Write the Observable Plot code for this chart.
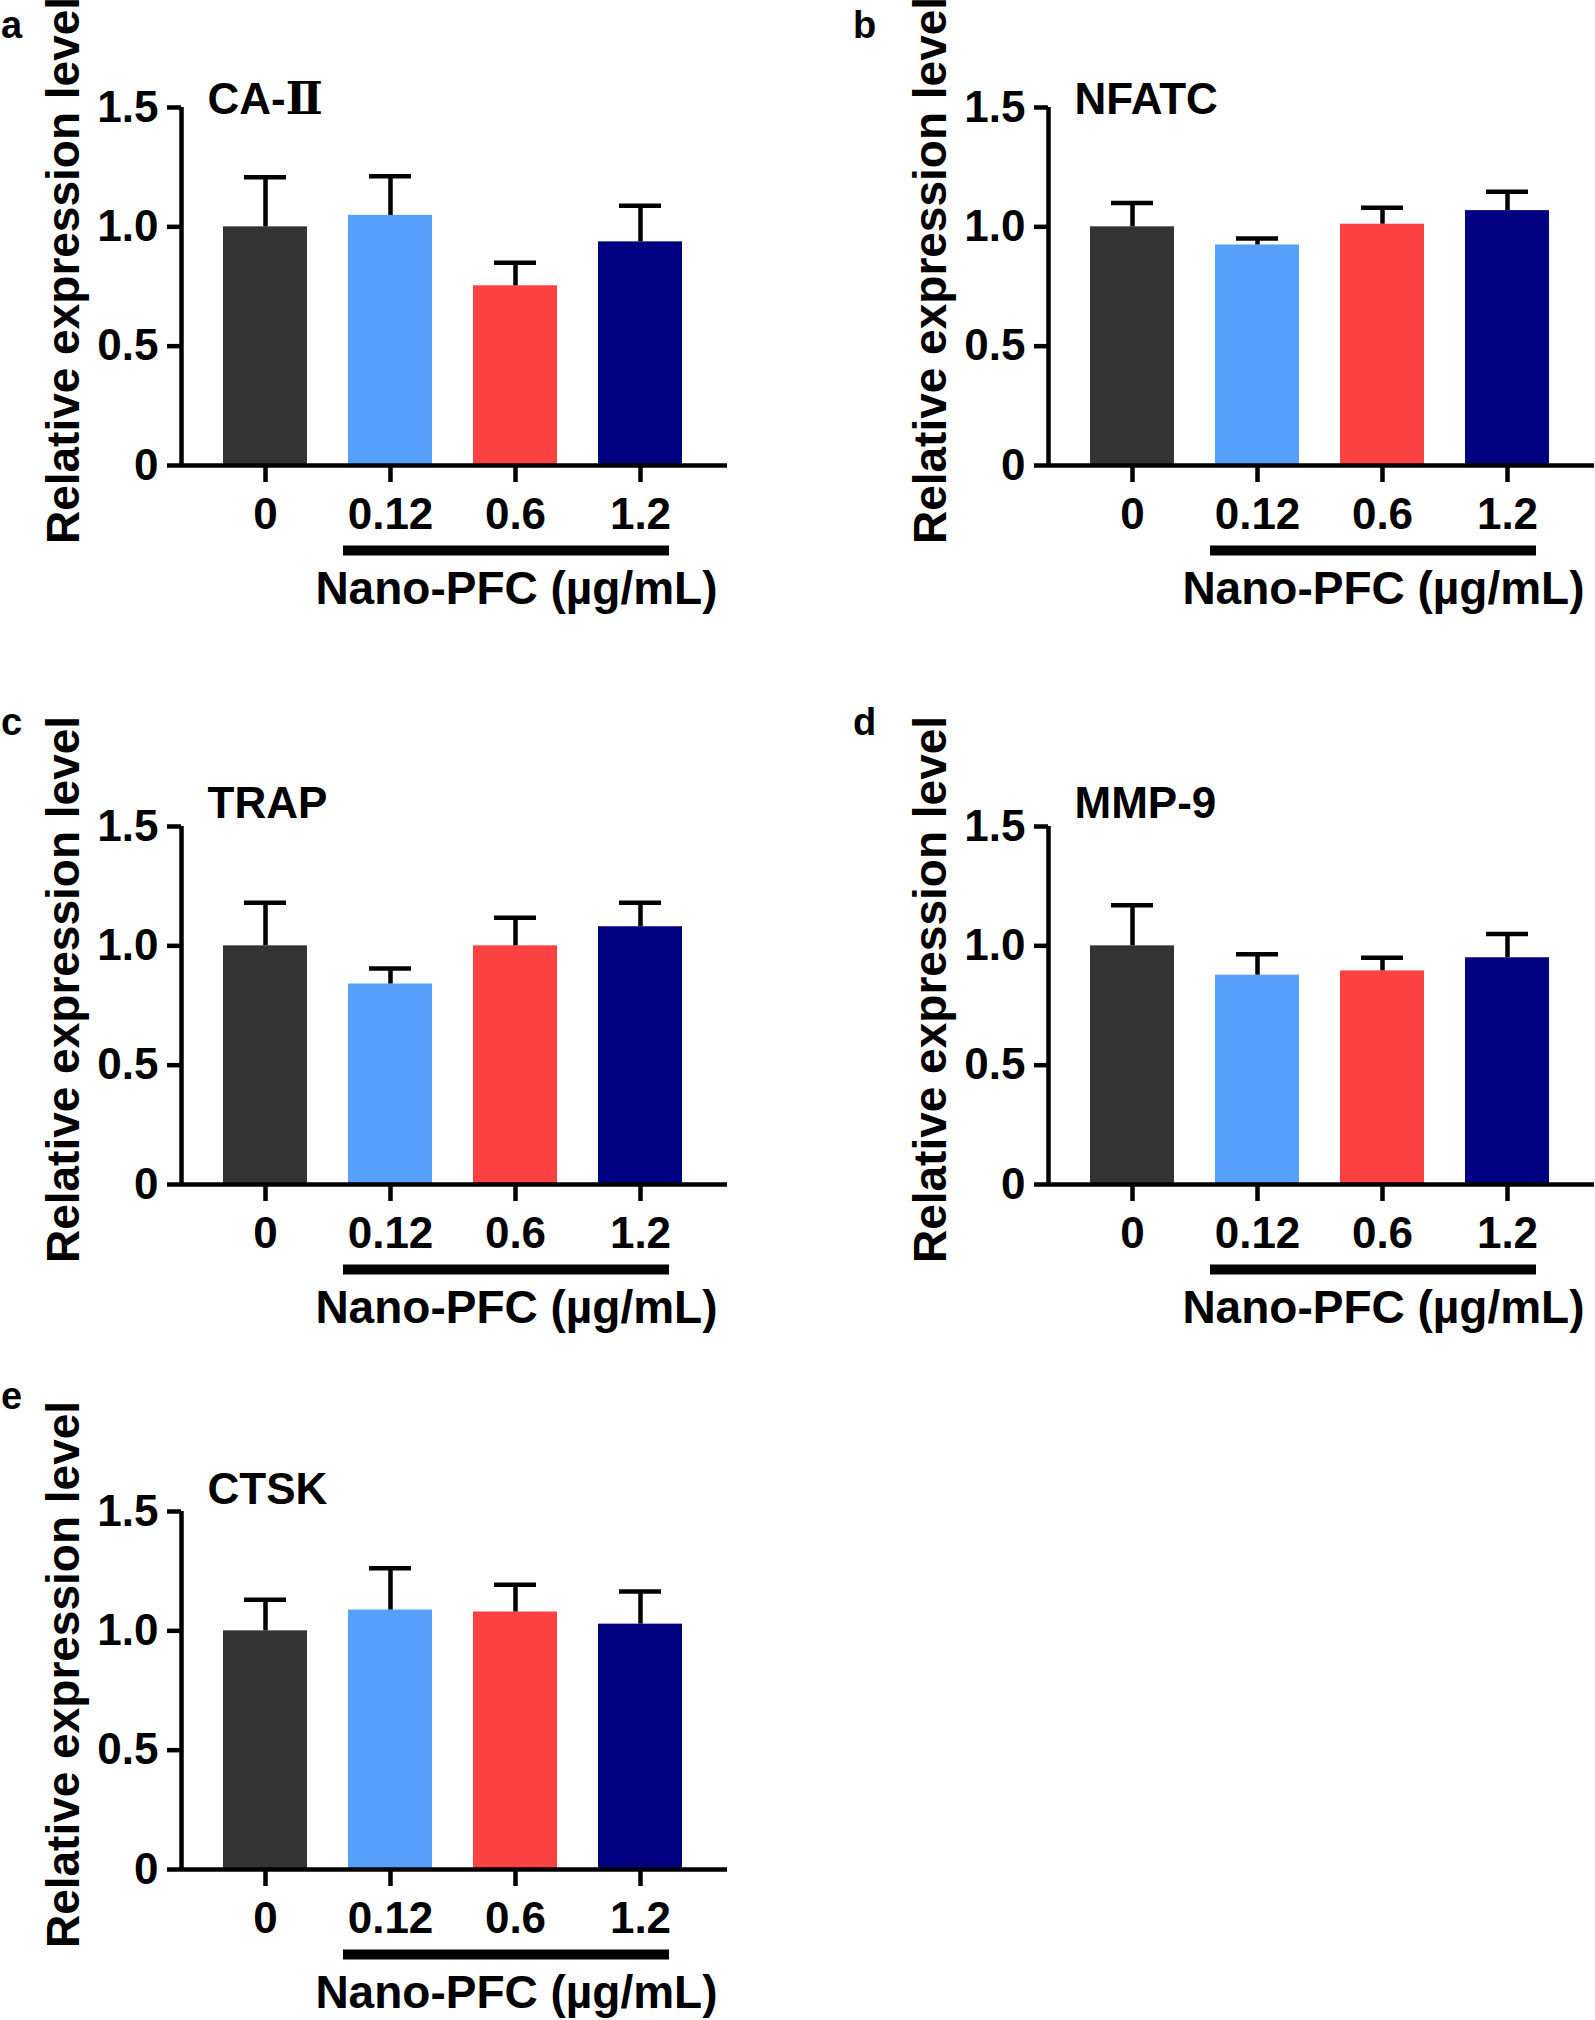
<!DOCTYPE html>
<html><head><meta charset="utf-8">
<script src="https://cdn.jsdelivr.net/npm/d3@7"></script>
<script src="https://cdn.jsdelivr.net/npm/@observablehq/plot@0.6"></script>
<style>
html,body{margin:0;padding:0;background:#fff;overflow:hidden;}
#fig{position:relative;width:1595px;height:2020px;font-family:"Liberation Sans",Arial,sans-serif;font-weight:bold;color:#000;}
.panel{position:absolute;}
.letter{position:absolute;font-size:38px;font-weight:bold;line-height:1;}
</style></head><body><div id="fig"></div>
<script>
// ---- data ----
const doses = ["0", "0.12", "0.6", "1.2"];
const groupColors = ["#333333", "#56a0fb", "#fb4141", "#000080"];
const genes = ["CA-Ⅱ", "NFATC", "TRAP", "MMP-9", "CTSK"];
const panelLetters = ["a", "b", "c", "d", "e"];
const meanCA2  = [1.0, 1.048, 0.753, 0.937];
const sdCA2    = [0.208, 0.164, 0.097, 0.151];
const meanNFATC = [1.0, 0.924, 1.011, 1.068];
const sdNFATC   = [0.10, 0.027, 0.069, 0.079];
const meanTRAP = [1.0, 0.840, 1.000, 1.080];
const sdTRAP   = [0.180, 0.065, 0.118, 0.100];
const meanMMP9 = [1.0, 0.877, 0.895, 0.950];
const sdMMP9   = [0.170, 0.088, 0.055, 0.100];
const meanCTSK = [1.0, 1.087, 1.079, 1.028];
const sdCTSK   = [0.130, 0.175, 0.114, 0.137];
const yTicks = [0, 0.5, 1.0, 1.5];
const yTickLabels = ["0", "0.5", "1.0", "1.5"];
const xLabel = "Nano-PFC (µg/mL)";
const yLabel = "Relative expression level";

const means = [meanCA2, meanNFATC, meanTRAP, meanMMP9, meanCTSK];
const sds = [sdCA2, sdNFATC, sdTRAP, sdMMP9, sdCTSK];

// ---- layout ----
const panelPos = [[0, 0], [867, 0], [0, 719], [867, 719], [0, 1404]];
const titleDy = [6, 6, -9, -9, -8];
const letterPos = [[1, 6], [853, 6], [1, 703], [853, 703], [1, 1377]];
const xDomain = [-0.672, 3.696];
const halfBar = 0.336, halfCap = 0.168, lw = 4.5;

const fig = document.getElementById("fig");

function makePanel(i) {
  const data = doses.map((d, j) => ({j, dose: d, mean: means[i][j], sd: sds[i][j], color: groupColors[j]}));
  const treated = data.slice(1);
  return Plot.plot({
    width: 728, height: 616,
    marginLeft: 181, marginRight: 1, marginTop: 107, marginBottom: 151,
    style: {fontFamily: "'Liberation Sans', Arial, sans-serif", fontWeight: "bold", fontSize: "44px", color: "#000", background: "transparent", overflow: "visible"},
    x: {type: "linear", domain: xDomain},
    y: {domain: [0, 1.5]},
    marks: [
      Plot.rectY(data, {x1: d => d.j - halfBar, x2: d => d.j + halfBar, y1: 0, y2: "mean", fill: "color"}),
      Plot.ruleX(data, {x: "j", y1: "mean", y2: d => d.mean + d.sd, stroke: "#000", strokeWidth: lw}),
      Plot.ruleY(data, {y: d => d.mean + d.sd, x1: d => d.j - halfCap, x2: d => d.j + halfCap, stroke: "#000", strokeWidth: lw}),
      Plot.ruleY([0], {stroke: "#000", strokeWidth: lw}),
      Plot.ruleX([xDomain[0]], {stroke: "#000", strokeWidth: lw}),
      Plot.axisY({ticks: yTicks, tickFormat: v => yTickLabels[yTicks.indexOf(v)], tickSize: 14, tickPadding: 9, strokeWidth: lw, label: null, fontSize: 44}),
      Plot.axisX({ticks: data.map(d => d.j), tickFormat: j => doses[j], tickSize: 17, tickPadding: 15, strokeWidth: lw, label: null, fontSize: 44}),
      Plot.ruleY([0], {x1: treated[0].j - 0.376, x2: treated[treated.length - 1].j + 0.232, dy: 85, stroke: "#000", strokeWidth: 10}),
      Plot.text([xLabel], {text: d => d, frameAnchor: "bottom-right", textAnchor: "end", lineAnchor: "top", dx: -10, dy: 106, fontSize: 46}),
      Plot.text([genes[i]], {text: d => d, frameAnchor: "top-left", textAnchor: "start", lineAnchor: "bottom", dx: 26, dy: titleDy[i], fontSize: 44}),
      Plot.text([yLabel], {text: d => d, frameAnchor: "left", rotate: -90, textAnchor: "middle", lineAnchor: "bottom", dx: -103, dy: -16, fontSize: 46})
    ]
  });
}

// render the Roman numeral Ⅱ with a serif font (as in the figure)
function styleRoman(svg) {
  svg.querySelectorAll("text").forEach(t => {
    const s = t.textContent;
    if (s.includes("Ⅱ") && t.children.length === 0) {
      t.textContent = "";
      const parts = s.split("Ⅱ");
      parts.forEach((p, k) => {
        if (p) {
          const ts = document.createElementNS("http://www.w3.org/2000/svg", "tspan");
          ts.textContent = p;
          t.appendChild(ts);
        }
        if (k < parts.length - 1) {
          const ts = document.createElementNS("http://www.w3.org/2000/svg", "tspan");
          ts.textContent = "Ⅱ";
          ts.setAttribute("font-family", "'DejaVu Serif', 'Liberation Serif', serif");
          t.appendChild(ts);
        }
      });
    }
  });
}

genes.forEach((g, i) => {
  const div = document.createElement("div");
  div.className = "panel";
  div.style.left = panelPos[i][0] + "px";
  div.style.top = panelPos[i][1] + "px";
  const svg = makePanel(i);
  styleRoman(svg);
  div.appendChild(svg);
  fig.appendChild(div);
  const lt = document.createElement("div");
  lt.className = "letter";
  lt.textContent = panelLetters[i];
  lt.style.left = letterPos[i][0] + "px";
  lt.style.top = letterPos[i][1] + "px";
  fig.appendChild(lt);
});
</script></body></html>
